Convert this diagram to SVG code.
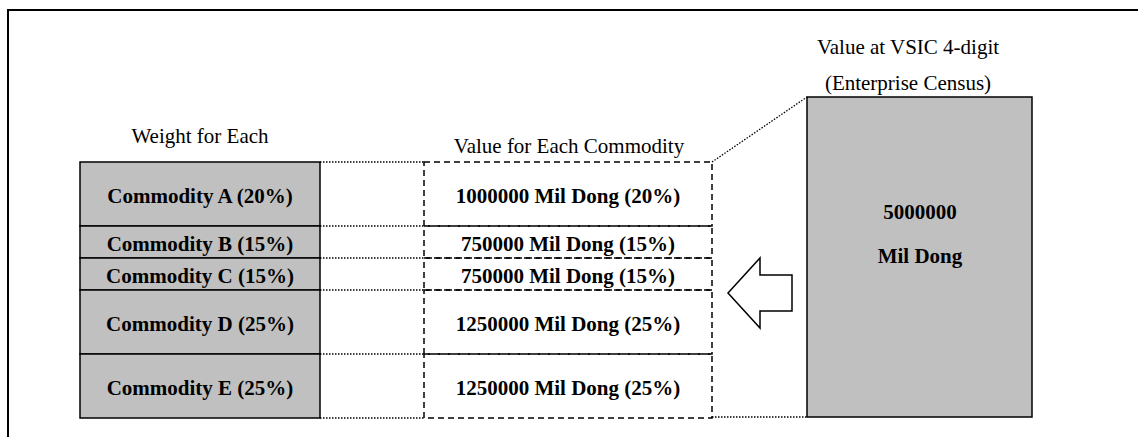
<svg xmlns="http://www.w3.org/2000/svg" width="1138" height="437" viewBox="0 0 1138 437">
<style>
  .frame { fill: none; stroke: #000; stroke-width: 2; }
  .box { fill: #C0C0C0; stroke: #000; stroke-width: 1.5; }
  .dash { fill: none; stroke: #000; stroke-width: 1.5; stroke-dasharray: 6 4; }
  .dot { fill: none; stroke: #000; stroke-width: 1.3; stroke-dasharray: 1.5 1.5; }
  .arrow { fill: #fff; stroke: #000; stroke-width: 1.5; stroke-linejoin: miter; }
  text { font-family: "Liberation Serif", "Times New Roman", serif; font-size: 21px; fill: #000; text-anchor: middle; }
  .b { font-weight: bold; }
</style>
<rect width="1138" height="437" fill="#fff"/>
<rect class="frame" x="8" y="10" width="1140" height="440"/>

<g id="labels">
  <text x="200" y="143">Weight for Each</text>
  <text x="569" y="153">Value for Each Commodity</text>
  <text x="908" y="54">Value at VSIC 4-digit</text>
  <text x="908" y="90">(Enterprise Census)</text>
</g>

<g id="weight-A"><rect class="box" x="80" y="162" width="240" height="64"/><text class="b" x="200" y="203">Commodity A (20%)</text></g>
<g id="weight-B"><rect class="box" x="80" y="226" width="240" height="32"/><text class="b" x="200" y="251">Commodity B (15%)</text></g>
<g id="weight-C"><rect class="box" x="80" y="258" width="240" height="32"/><text class="b" x="200" y="283">Commodity C (15%)</text></g>
<g id="weight-D"><rect class="box" x="80" y="290" width="240" height="64"/><text class="b" x="200" y="331">Commodity D (25%)</text></g>
<g id="weight-E"><rect class="box" x="80" y="354" width="240" height="64"/><text class="b" x="200" y="395">Commodity E (25%)</text></g>

<g id="value-A"><rect class="dash" x="424" y="162" width="288" height="64"/><text class="b" x="568" y="203">1000000 Mil Dong (20%)</text></g>
<g id="value-B"><rect class="dash" x="424" y="226" width="288" height="32"/><text class="b" x="568" y="251">750000 Mil Dong (15%)</text></g>
<g id="value-C"><rect class="dash" x="424" y="258" width="288" height="32"/><text class="b" x="568" y="283">750000 Mil Dong (15%)</text></g>
<g id="value-D"><rect class="dash" x="424" y="290" width="288" height="64"/><text class="b" x="568" y="331">1250000 Mil Dong (25%)</text></g>
<g id="value-E"><rect class="dash" x="424" y="354" width="288" height="64"/><text class="b" x="568" y="395">1250000 Mil Dong (25%)</text></g>

<g id="total"><rect class="box" x="807" y="97" width="225" height="320"/><text class="b" x="920" y="219">5000000</text><text class="b" x="920" y="263">Mil Dong</text></g>

<g id="connectors">
  <line class="dot" x1="320" y1="162" x2="424" y2="162"/>
  <line class="dot" x1="320" y1="226" x2="424" y2="226"/>
  <line class="dot" x1="320" y1="258" x2="424" y2="258"/>
  <line class="dot" x1="320" y1="290" x2="424" y2="290"/>
  <line class="dot" x1="320" y1="354" x2="424" y2="354"/>
  <line class="dot" x1="320" y1="418" x2="424" y2="418"/>
  <line class="dot" x1="712" y1="162" x2="807" y2="97"/>
  <line class="dot" x1="712" y1="417" x2="807" y2="417"/>
  <polygon class="arrow" points="728,293 760,258 760,275 792,275 792,311 760,311 760,328"/>
</g>
</svg>
